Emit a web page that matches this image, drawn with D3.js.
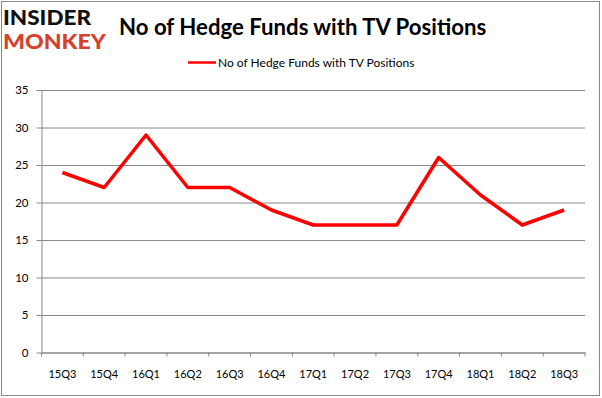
<!DOCTYPE html>
<html>
<head>
<meta charset="utf-8">
<script src="https://cdn.jsdelivr.net/npm/d3@7"></script>
<style>
  body { margin: 0; background: #fff; }
  text { font-family: Lato, "Open Sans", Arial, sans-serif; }
</style>
</head>
<body>
<div id="chart"></div>
<script>
// data
var quarters = ["15Q3", "15Q4", "16Q1", "16Q2", "16Q3", "16Q4", "17Q1", "17Q2", "17Q3", "17Q4", "18Q1", "18Q2", "18Q3"];
var fundCounts = [24, 22, 29, 22, 22, 19, 17, 17, 17, 26, 21, 17, 19];
var yTicks = [0, 5, 10, 15, 20, 25, 30, 35];
var seriesName = "No of Hedge Funds with TV Positions";
var chartTitle = "No of Hedge Funds with TV Positions";

var width = 602,
    height = 398;

var plot = { left: 41.5, right: 585, top: 90, bottom: 352.5 };

var svg = d3.select("#chart").append("svg")
    .attr("width", width)
    .attr("height", height)
    .style("display", "block");

// outer frame
svg.append("rect")
    .attr("x", 1.5).attr("y", 1.5)
    .attr("width", 598).attr("height", 394)
    .attr("fill", "#fff")
    .attr("stroke", "#888")
    .attr("stroke-width", 1);

var x = d3.scaleBand()
    .domain(quarters)
    .range([plot.left, plot.right]);

var y = d3.scaleLinear()
    .domain([0, 35])
    .range([plot.bottom, plot.top]);

// gridlines + left ticks
var yAxis = d3.axisLeft(y)
    .tickValues(yTicks)
    .tickSize(-(plot.right - plot.left))
    .tickPadding(13)
    .tickSizeOuter(0);

var gy = svg.append("g")
    .attr("transform", "translate(" + plot.left + ",0)")
    .call(yAxis);
gy.select(".domain").attr("stroke", "#888");
gy.selectAll(".tick line").attr("stroke", "#888").attr("x1", -5);
gy.selectAll(".tick text")
    .attr("fill", "#000")
    .style("font-size", "11.5px");

var xAxis = d3.axisBottom(x)
    .tickSize(0)
    .tickPadding(18);

var gx = svg.append("g")
    .attr("transform", "translate(0," + plot.bottom + ")")
    .call(xAxis);
gx.select(".domain").attr("stroke", "#888");
gx.selectAll(".tick text")
    .attr("fill", "#000")
    .style("font-size", "11px");

// x ticks on band boundaries
svg.append("g").selectAll("line")
    .data(quarters.concat([null]))
    .enter().append("line")
    .attr("x1", function (d, i) { return plot.left + i * x.step(); })
    .attr("x2", function (d, i) { return plot.left + i * x.step(); })
    .attr("y1", plot.bottom)
    .attr("y2", plot.bottom + 4)
    .attr("stroke", "#888");

var line = d3.line()
    .x(function (d, i) { return x(quarters[i]) + x.bandwidth() / 2; })
    .y(function (d) { return y(d); });

svg.append("path")
    .datum(fundCounts)
    .attr("d", line)
    .attr("fill", "none")
    .attr("stroke", "#ff0000")
    .attr("stroke-width", 3.5)
    .attr("stroke-linejoin", "round");

// title
svg.append("text")
    .attr("x", 119)
    .attr("y", 34.5)
    .style("font-size", "22.2px")
    .style("font-weight", "bold")
    .text(chartTitle);

// legend
svg.append("line")
    .attr("x1", 188).attr("x2", 216)
    .attr("y1", 62.5).attr("y2", 62.5)
    .attr("stroke", "#ff0000")
    .attr("stroke-width", 2.5);
svg.append("text")
    .attr("x", 218)
    .attr("y", 67)
    .style("font-size", "12px")
    .text(seriesName);

// logo
var logo = svg.append("g");
logo.append("text")
    .attr("x", 3).attr("y", 24.5)
    .attr("textLength", 88)
    .attr("lengthAdjust", "spacingAndGlyphs")
    .style("font-size", "21px")
    .style("font-weight", "900")
    .attr("fill", "#111")
    .text("INSIDER");
logo.append("text")
    .attr("x", 3).attr("y", 48.5)
    .attr("textLength", 103)
    .attr("lengthAdjust", "spacingAndGlyphs")
    .style("font-size", "21px")
    .style("font-weight", "900")
    .attr("fill", "#d6412b")
    .text("MONKEY");
</script>
</body>
</html>
